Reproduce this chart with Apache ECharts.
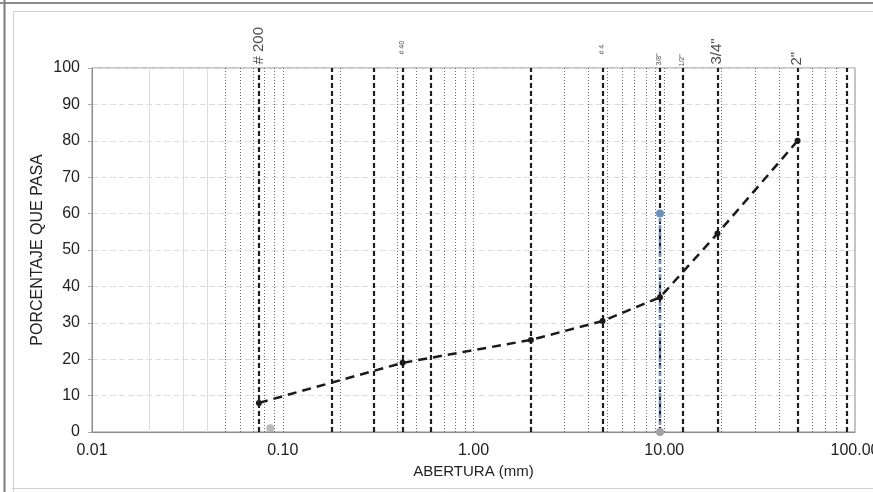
<!DOCTYPE html>
<html><head><meta charset="utf-8">
<script src="https://cdn.jsdelivr.net/npm/echarts@6/dist/echarts.min.js"></script>
<style>html,body{margin:0;padding:0;background:#fff}#c{width:873px;height:492px}</style>
</head><body><div id="c"></div>
<script>
// ---- data ----
const sizes = [0.075, 0.425, 2.0, 4.75, 9.5, 19.0, 50.0];          // mm
const passing = [8, 19, 25.3, 30.5, 37, 54.5, 80];                  // % que pasa
const sieveLines = [0.075, 0.18, 0.3, 0.425, 0.6, 2.0, 4.75, 9.5, 12.5, 19.0, 50.0, 90.0];
const labelSieves = [0.075, 0.425, 4.75, 9.5, 12.5, 19.0, 50.0];
const labelTexts = ['# 200', '# 40', '# 4', '3/8"', '1/2"', '3/4"', '2"'];
const dottedLines = [0.05,0.06,0.07,0.08,0.09,0.1,0.2,0.4,0.5,0.7,0.8,0.9,1,3,4,5,6,7,8,9,10,20,30,40,60,70,80];
const faintLines = [0.02,0.03,0.04];
const refSizes = [9.5, 9.5];
const refPass = [0, 60];
const dotSizes = [0.086];
const dotPass = [1];
const xMin = 0.01, xMax = 100;

// ---- styles ----
const FONT = 'Liberation Sans';
const labelStyle = {
  '# 200': {fontSize: 15, gap: 3},
  '# 40': {fontSize: 7, gap: 13},
  '# 4': {fontSize: 7, gap: 13},
  '3/8"': {fontSize: 7, gap: 2},
  '1/2"': {fontSize: 7, gap: 1},
  '3/4"': {fontSize: 15, gap: 3},
  '2"': {fontSize: 15, gap: 2}
};

const chart = echarts.init(document.getElementById('c'), null, {renderer: 'canvas'});

function vLines(vals, lineStyle, z) {
  return {
    type: 'line', data: [], silent: true, z: z,
    markLine: {
      silent: true, symbol: 'none', animation: false, precision: 6,
      label: {show: false},
      lineStyle: lineStyle,
      data: vals.map(v => ({xAxis: v}))
    }
  };
}

const option = {
  animation: false,
  backgroundColor: '#fff',
  grid: {left: 92, right: 18, top: 68, bottom: 60, show: true, borderColor: '#8c8c8c', borderWidth: 1,
    containLabel: false, outerBoundsMode: 'none'},
  xAxis: {
    type: 'log', logBase: 10, min: xMin, max: xMax,
    name: 'ABERTURA (mm)', nameLocation: 'middle', nameGap: 32,
    nameTextStyle: {fontFamily: FONT, fontSize: 15, color: '#222'},
    axisLine: {show: true, lineStyle: {color: '#8c8c8c'}},
    axisTick: {show: false},
    splitLine: {show: false},
    axisLabel: {fontFamily: FONT, fontSize: 16, color: '#222', margin: 11,
      formatter: v => Number(v).toFixed(2)}
  },
  yAxis: {
    type: 'value', min: 0, max: 100, interval: 10,
    name: 'PORCENTAJE QUE PASA', nameLocation: 'middle', nameGap: 46, nameMoveOverlap: false,
    nameTextStyle: {fontFamily: FONT, fontSize: 16, color: '#222'},
    axisLine: {show: true, lineStyle: {color: '#8c8c8c'}},
    axisTick: {show: true, length: 4, lineStyle: {color: '#aaa'}},
    splitLine: {show: true, lineStyle: {color: '#dcdcdc', type: [6, 3]}},
    axisLabel: {fontFamily: FONT, fontSize: 16, color: '#222', margin: 12}
  },
  graphic: [
    {type: 'line', silent: true, shape: {x1: 4.5, y1: 0, x2: 4.5, y2: 492}, style: {stroke: '#7a7a7a', lineWidth: 2}},
    {type: 'line', silent: true, shape: {x1: 0, y1: 3, x2: 873, y2: 3}, style: {stroke: '#8a8a8a', lineWidth: 2}},
    {type: 'line', silent: true, shape: {x1: 13.5, y1: 11, x2: 13.5, y2: 492}, style: {stroke: '#d0d0d0', lineWidth: 1}},
    {type: 'line', silent: true, shape: {x1: 13, y1: 11.5, x2: 873, y2: 11.5}, style: {stroke: '#d0d0d0', lineWidth: 1}},
    {type: 'line', silent: true, shape: {x1: 12, y1: 488.5, x2: 873, y2: 488.5}, style: {stroke: '#cfcfcf', lineWidth: 1}}
  ],
  series: [
    vLines(faintLines, {color: '#dcdcdc', type: 'solid', width: 1}, 1),
    vLines(dottedLines, {color: '#6a6a6a', type: [1, 2], width: 1}, 1),
    vLines(sieveLines, {color: '#1e1e1e', type: [5, 3], width: 2.2}, 2),
    {
      type: 'line', silent: true, z: 7,
      data: refSizes.map((s, i) => ({value: [s, refPass[i]],
        itemStyle: {color: refPass[i] > 0 ? '#6f90bf' : '#a3a3a3'}})),
      symbol: 'circle', symbolSize: 8,
      lineStyle: {color: '#6f90bf', type: [4, 3], width: 2.5}
    },
    {
      type: 'scatter', silent: true, z: 7,
      data: dotSizes.map((s, i) => [s, dotPass[i]]),
      symbolSize: 8, itemStyle: {color: '#a8a8a8'}
    },
    {
      type: 'line', z: 8, silent: true,
      data: sizes.map((s, i) => [s, passing[i]]),
      symbol: 'circle', symbolSize: 6,
      itemStyle: {color: '#1a1a1a'},
      lineStyle: {color: '#1a1a1a', type: [9, 6], width: 2.5}
    },
    {
      type: 'scatter', silent: true, clip: false, z: 9,
      symbolSize: 1, itemStyle: {color: 'rgba(0,0,0,0)'},
      data: labelSieves.map((s, i) => ({
        value: [s, 100], name: labelTexts[i],
        label: {fontSize: labelStyle[labelTexts[i]].fontSize, position: [0, -labelStyle[labelTexts[i]].gap]}
      })),
      label: {show: true, formatter: p => p.name, rotate: 90, align: 'left', verticalAlign: 'middle',
        color: '#222', fontFamily: FONT}
    }
  ]
};
chart.setOption(option);
</script></body></html>
